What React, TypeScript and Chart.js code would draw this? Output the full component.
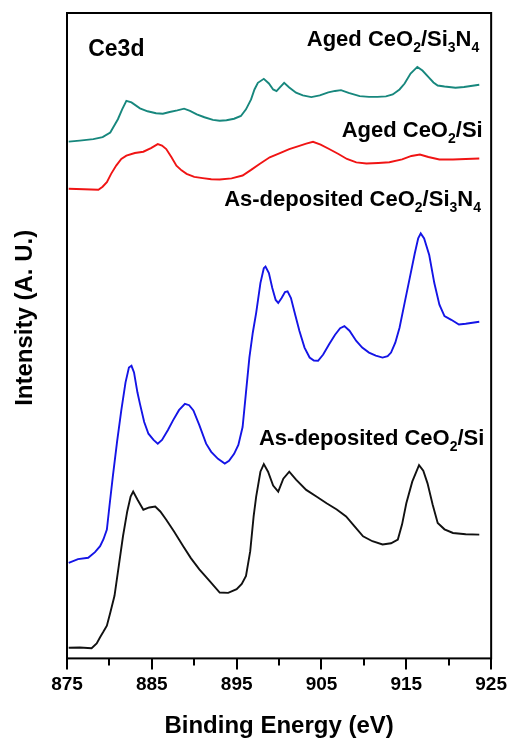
import React, { useEffect, useRef } from 'react';
import { Chart, registerables } from 'chart.js';

Chart.register(...registerables);

const FONT = '"Liberation Sans", Arial, Helvetica, sans-serif';

// x axis
const xMin = 875;
const xMax = 925;
const xMajorTicks = [875, 885, 895, 905, 915, 925];
const xMinorTicks = [880, 890, 900, 910, 920];
const yMin = 0;
const yMax = 650;

// [binding energy (eV), intensity (a.u., offset stacked)]
const agedSi3N4 = [
  [875.2, 520.5], [876.5, 521.5], [878.1, 523], [879.2, 525], [880.1, 529.7], [881.0, 543],
  [881.5, 553], [882.0, 561.5], [882.6, 560], [883.6, 554], [884.5, 551], [885.5, 549],
  [886.3, 548.5], [887.1, 550.3], [888.0, 552], [888.8, 553.7], [889.5, 551.5], [890.3, 548],
  [891.2, 545], [892.2, 542.3], [893.0, 541.5], [893.8, 542], [894.7, 543.5], [895.5, 546.3],
  [896.1, 553], [896.7, 563], [897.1, 573], [897.5, 579.7], [898.2, 583.7], [898.8, 579],
  [899.3, 573], [899.7, 571.3], [900.1, 575], [900.6, 579.7], [901.2, 575], [902.0, 569.7],
  [902.8, 567], [903.8, 565.3], [904.8, 567], [905.8, 570], [906.6, 571.5], [907.3, 572.3],
  [908.2, 569.5], [909.5, 566.3], [910.6, 565.5], [911.6, 565.5], [912.6, 566], [913.4, 568],
  [914.2, 573], [914.8, 579], [915.5, 589], [916.3, 595.7], [916.9, 592], [917.7, 584.7],
  [918.2, 580], [918.7, 577], [919.5, 576], [920.8, 574.7], [921.8, 575.5], [922.6, 576.5],
  [923.6, 577.7],
];

const agedSi = [
  [875.2, 473], [877.0, 472.5], [878.7, 472], [879.2, 475], [879.7, 479.7], [880.2, 488],
  [880.8, 496.3], [881.4, 503], [882.0, 506.3], [883.0, 509], [884.0, 510.3], [884.9, 514],
  [885.7, 518], [886.2, 516.5], [886.7, 513], [887.3, 505], [887.9, 496.3], [888.5, 491.5],
  [889.1, 488], [890.0, 485], [891.0, 483.7], [892.0, 482.5], [893.0, 482.3], [894.4, 483.5],
  [895.7, 486.3], [896.7, 492], [897.7, 498], [898.9, 504.7], [900.1, 509], [901.2, 513],
  [902.3, 516], [903.2, 518.5], [904.0, 520.3], [904.9, 517.5], [905.9, 513], [907.0, 508],
  [908.0, 503], [909.1, 499.5], [910.3, 498.5], [911.7, 499], [913.0, 499.7], [914.5, 502.5],
  [915.6, 506], [916.6, 507.5], [917.6, 505], [918.9, 502.5], [920.5, 502.5], [922.0, 503],
  [923.6, 503.5],
];

const asDepSi3N4 = [
  [875.2, 96.3], [876.3, 100], [877.5, 101.3], [878.3, 107], [878.9, 113], [879.3, 120],
  [879.7, 129.7], [880.0, 153], [880.4, 183], [880.9, 218], [881.4, 249.7], [881.9, 278],
  [882.3, 293], [882.6, 294.7], [882.9, 288], [883.3, 268], [883.6, 256.3], [884.1, 238],
  [884.6, 226.3], [885.2, 220], [885.7, 216.3], [886.2, 220], [886.9, 230], [887.5, 239.7],
  [888.2, 250], [888.9, 256.3], [889.4, 255], [889.9, 249.7], [890.6, 235], [891.4, 216.3],
  [892.0, 208], [892.8, 201], [893.6, 196.3], [894.1, 199], [894.7, 206], [895.2, 215],
  [895.7, 233], [896.1, 268], [896.5, 303], [896.9, 328], [897.3, 348], [897.8, 378],
  [898.2, 393], [898.4, 394.7], [898.8, 388], [899.2, 373], [899.6, 361], [899.9, 358],
  [900.3, 363], [900.7, 369], [901.0, 369.7], [901.4, 363], [901.9, 346], [902.4, 329.7],
  [903.0, 313], [903.6, 303], [904.1, 300], [904.6, 299.7], [905.2, 306], [905.9, 316.3],
  [906.6, 326], [907.2, 332.5], [907.7, 334.7], [908.3, 330], [909.1, 319.7], [909.8, 313],
  [910.6, 308], [911.4, 305], [912.2, 303], [912.8, 304.5], [913.2, 308], [913.7, 318],
  [914.2, 333], [914.8, 358], [915.4, 383], [916.0, 408], [916.4, 423], [916.7, 428],
  [917.1, 423], [917.7, 406.3], [918.3, 378], [918.9, 356.3], [919.5, 344.7], [920.3, 341],
  [921.2, 336.3], [922.0, 337], [922.8, 338], [923.6, 339],
];

const asDepSi = [
  [875.2, 10.7], [876.5, 11], [877.9, 10.3], [878.5, 15], [878.9, 21.3], [879.3, 27],
  [879.7, 33], [880.1, 46], [880.6, 63], [881.1, 93], [881.6, 123], [882.1, 148],
  [882.5, 163], [882.8, 168], [883.3, 160], [884.0, 149.7], [884.7, 152], [885.4, 153],
  [886.0, 148], [886.7, 139.7], [887.6, 128], [888.7, 113], [889.6, 101], [890.6, 89.7],
  [891.8, 78], [893.0, 66.3], [894.0, 66], [895.0, 69.7], [895.6, 75], [896.1, 83],
  [896.6, 108], [897.0, 143], [897.3, 163], [897.8, 188], [898.2, 195.7], [898.7, 188],
  [899.3, 174], [899.9, 168], [900.5, 181], [901.2, 188], [902.0, 180], [903.2, 169.7],
  [904.4, 163], [905.6, 156.3], [906.8, 150], [907.9, 143], [908.9, 133], [909.9, 123],
  [911.0, 118], [912.2, 114.7], [913.2, 116], [914.0, 119.7], [914.5, 135], [915.0, 156.3],
  [915.7, 178], [916.5, 194.7], [917.0, 189], [917.5, 176.3], [918.1, 155], [918.7, 136.3],
  [919.5, 130], [920.5, 126.3], [922.0, 125], [923.6, 124.7],
];

const seriesNames = ['Aged CeO2/Si3N4', 'Aged CeO2/Si', 'As-deposited CeO2/Si3N4', 'As-deposited CeO2/Si'];
const seriesColors = ['#17877d', '#f01414', '#1414e6', '#111111'];

// curve labels: parts of [text, isSubscript]; anchor: right edge x (eV), baseline y (intensity)
const curveLabels = [
  { parts: [['Aged CeO', false], ['2', true], ['/Si', false], ['3', true], ['N', false], ['4', true]], x: 923.6, y: 617 },
  { parts: [['Aged CeO', false], ['2', true], ['/Si', false]], x: 924.0, y: 524.7 },
  { parts: [['As-deposited CeO', false], ['2', true], ['/Si', false], ['3', true], ['N', false], ['4', true]], x: 923.8, y: 455.7 },
  { parts: [['As-deposited CeO', false], ['2', true], ['/Si', false]], x: 924.2, y: 214.7 },
];
const panelLabel = { text: 'Ce3d', x: 877.5, y: 606.3 };
const yTitle = 'Intensity (A. U.)';
const xTitle = 'Binding Energy (eV)';

const decorPlugin = {
  id: 'decor',
  afterDraw(chart: any) {
    const { ctx, chartArea, scales } = chart;
    const xs = scales.x;
    const ys = scales.y;
    ctx.save();
    // frame
    ctx.strokeStyle = '#000';
    ctx.lineWidth = 2;
    ctx.strokeRect(chartArea.left, chartArea.top, chartArea.right - chartArea.left, chartArea.bottom - chartArea.top);
    // ticks
    ctx.lineWidth = 2;
    ctx.beginPath();
    xMajorTicks.forEach((v) => {
      const px = Math.round(xs.getPixelForValue(v));
      ctx.moveTo(px, chartArea.bottom);
      ctx.lineTo(px, chartArea.bottom + 11);
    });
    xMinorTicks.forEach((v) => {
      const px = Math.round(xs.getPixelForValue(v));
      ctx.moveTo(px, chartArea.bottom);
      ctx.lineTo(px, chartArea.bottom + 7);
    });
    ctx.stroke();

    // curve labels
    ctx.fillStyle = '#000';
    ctx.textBaseline = 'alphabetic';
    const mainFont = `bold 22px ${FONT}`;
    const subFont = `bold 14px ${FONT}`;
    curveLabels.forEach((lab) => {
      let total = 0;
      lab.parts.forEach(([t, sub]: any) => {
        ctx.font = sub ? subFont : mainFont;
        total += ctx.measureText(t).width;
      });
      let cx = xs.getPixelForValue(lab.x) - total;
      const by = ys.getPixelForValue(lab.y);
      lab.parts.forEach(([t, sub]: any) => {
        ctx.font = sub ? subFont : mainFont;
        ctx.textAlign = 'left';
        ctx.fillText(t, cx, sub ? by + 6 : by);
        cx += ctx.measureText(t).width;
      });
    });
    // panel label
    ctx.font = `bold 23px ${FONT}`;
    ctx.textAlign = 'left';
    ctx.fillText(panelLabel.text, xs.getPixelForValue(panelLabel.x), ys.getPixelForValue(panelLabel.y));

    // y title
    ctx.save();
    ctx.translate(25, ys.getPixelForValue(343));
    ctx.rotate(-Math.PI / 2);
    ctx.font = `bold 24px ${FONT}`;
    ctx.textAlign = 'center';
    ctx.textBaseline = 'middle';
    ctx.fillText(yTitle, 0, 0);
    ctx.restore();
    ctx.restore();
  },
};

export default function App() {
  const ref = useRef<HTMLCanvasElement>(null);
  useEffect(() => {
    if (!ref.current) return;
    const all = [agedSi3N4, agedSi, asDepSi3N4, asDepSi];
    const chart = new Chart(ref.current, {
      type: 'line',
      data: {
        datasets: all.map((pts, i) => ({
          label: seriesNames[i],
          data: pts.map(([x, y]) => ({ x, y })),
          borderColor: seriesColors[i],
          borderWidth: 1.9,
          pointRadius: 0,
          tension: 0,
          fill: false,
        })),
      },
      options: {
        animation: false,
        responsive: false,
        layout: { padding: { left: 67, right: 19, top: 13, bottom: 0 } },
        plugins: { legend: { display: false }, tooltip: { enabled: false } },
        scales: {
          x: {
            type: 'linear',
            min: xMin,
            max: xMax,
            afterBuildTicks: (axis: any) => {
              axis.ticks = xMajorTicks.map((v) => ({ value: v }));
            },
            ticks: {
              autoSkip: false,
              maxRotation: 0,
              color: '#000',
              padding: 4,
              font: { size: 19, weight: 'bold', family: FONT },
              callback: (v: any) => String(v),
            },
            grid: { display: true, drawOnChartArea: false, drawTicks: true, tickLength: 11, color: 'rgba(0,0,0,0)' },
            border: { display: false },
            title: {
              display: true,
              text: xTitle,
              color: '#000',
              font: { size: 24, weight: 'bold', family: FONT },
              padding: { top: 12, bottom: 2 },
            },
          },
          y: { display: false, min: yMin, max: yMax },
        },
      },
      plugins: [decorPlugin],
    } as any);
    return () => chart.destroy();
  }, []);
  return (
    <div style={{ position: 'fixed', left: 0, top: 0, width: 511, height: 743, background: '#fff' }}>
      <canvas ref={ref} width={511} height={743} style={{ width: 511, height: 743, display: 'block' }} />
    </div>
  );
}
